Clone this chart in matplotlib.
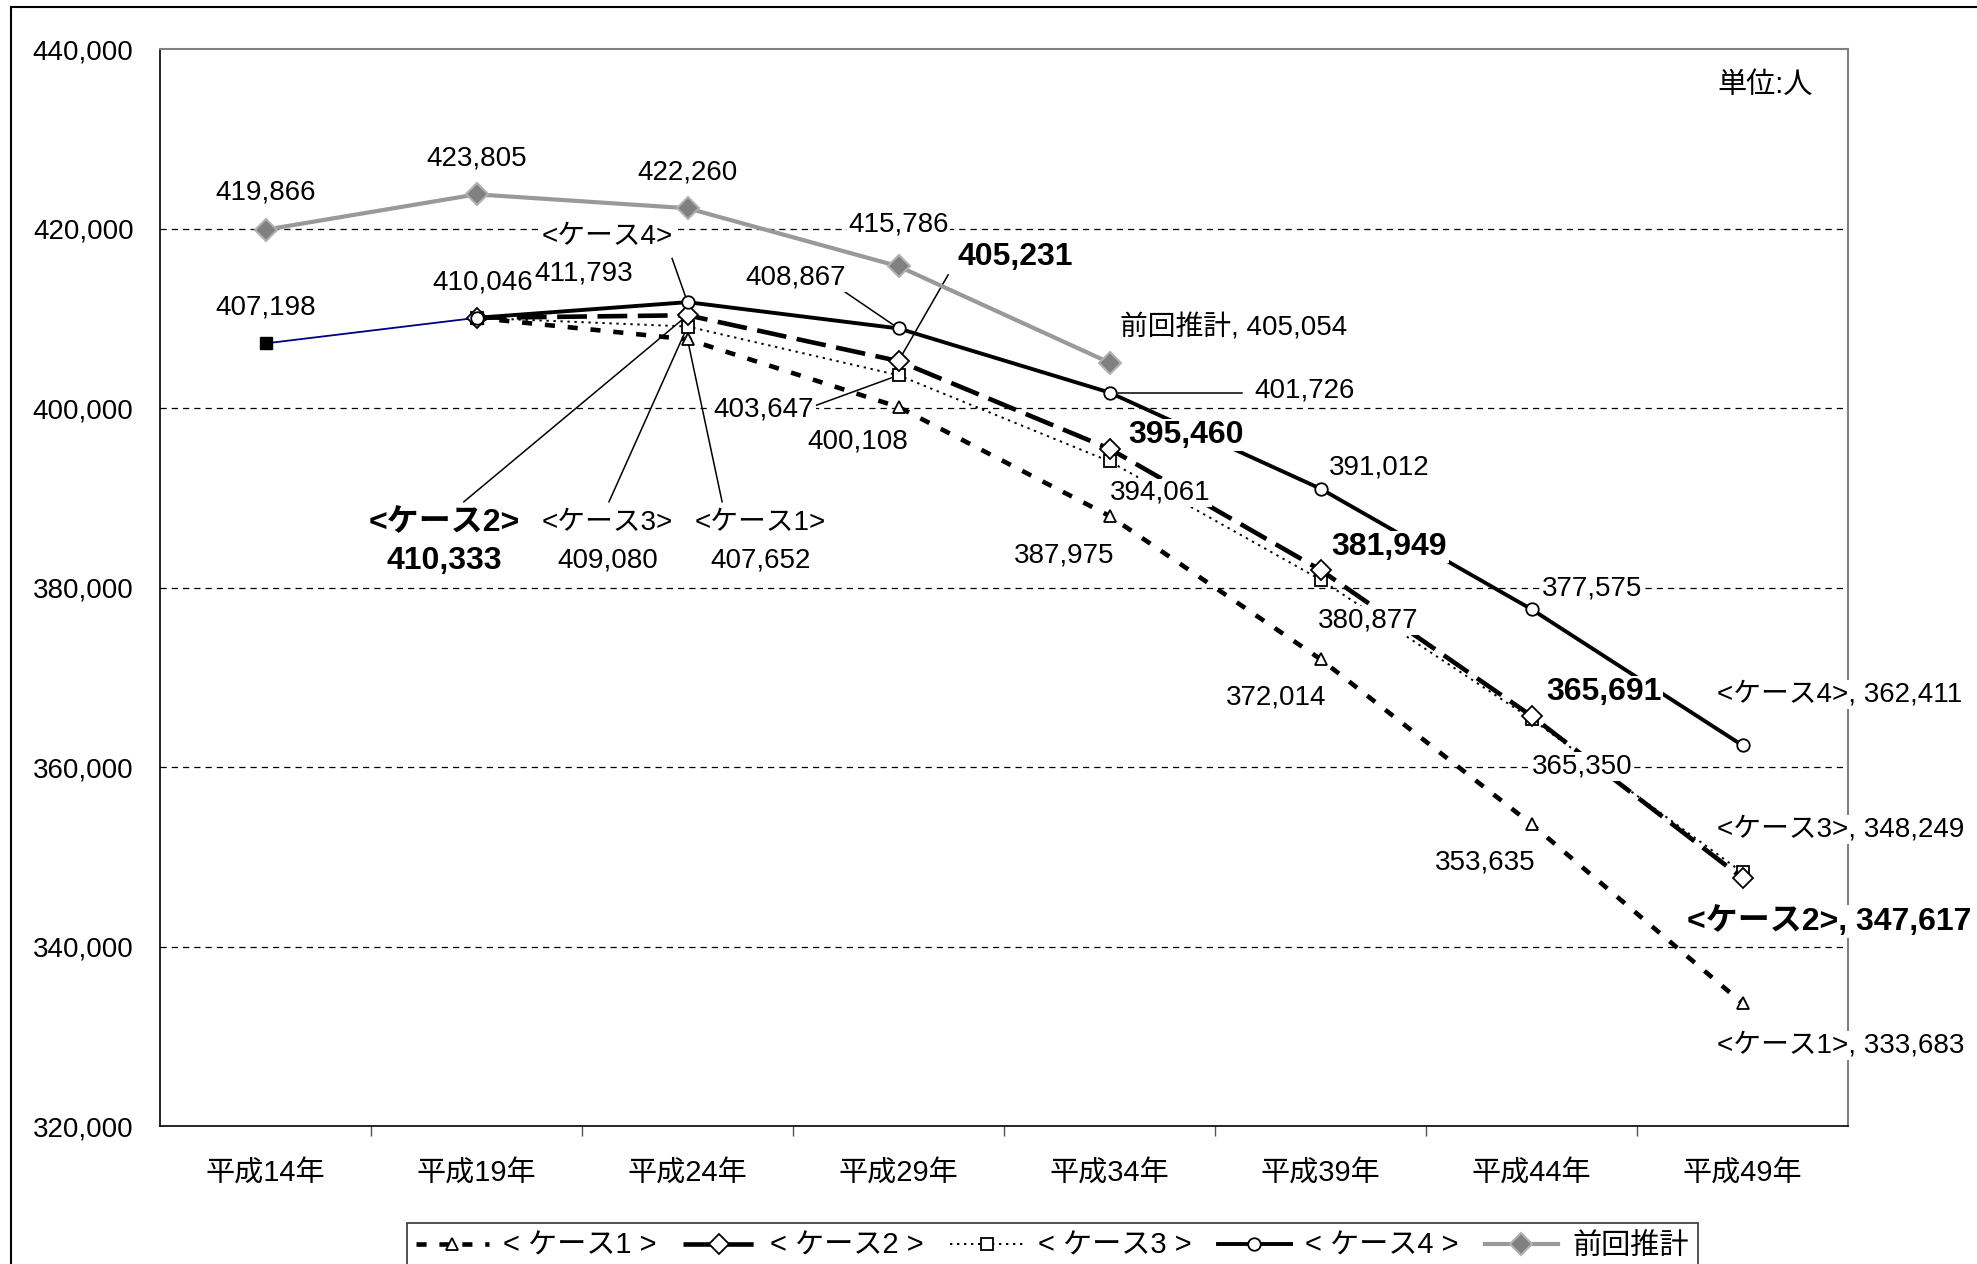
import matplotlib.pyplot as plt
from matplotlib.lines import Line2D
from matplotlib.ticker import FuncFormatter
import numpy as np

plt.rcParams['font.family'] = ['Liberation Sans', 'Noto Sans CJK JP']

# data (人)
years = ['平成14年', '平成19年', '平成24年', '平成29年', '平成34年', '平成39年', '平成44年', '平成49年']
jisseki = [407198, 410046]
case1 = [410046, 407652, 400108, 387975, 372014, 353635, 333683]
case2 = [410046, 410333, 405231, 395460, 381949, 365691, 347617]
case3 = [410046, 409080, 403647, 394061, 380877, 365350, 348249]
case4 = [410046, 411793, 408867, 401726, 391012, 377575, 362411]
zenkai = [419866, 423805, 422260, 415786, 405054]
case_names = ['<ケース1>', '<ケース2>', '<ケース3>', '<ケース4>']

W, H = 1977, 1264
fig = plt.figure(figsize=(W / 100, H / 100), dpi=100)
ax = fig.add_axes([160 / W, 1 - 1126 / H, 1688 / W, (1126 - 49) / H])

x_j = np.arange(len(jisseki))
x_c = np.arange(1, 1 + len(case1))
x_z = np.arange(len(zenkai))

st1 = dict(color='black', lw=3.3, dashes=(2.2, 2.8), marker='^', ms=9, mfc='white', mec='black', mew=1.3)
st2 = dict(color='black', lw=3.3, dashes=(6.5, 2.3), marker='D', ms=10, mfc='white', mec='black', mew=1.3)
st3 = dict(color='black', lw=1.4, dashes=(1.2, 2.4), marker='s', ms=8, mfc='white', mec='black', mew=1.3)
st4 = dict(color='black', lw=2.8, ls='-', marker='o', ms=9, mfc='white', mec='black', mew=1.3)
stz = dict(color='#999999', lw=3, ls='-', marker='D', ms=11, mfc='#808080', mec='#b0b0b0', mew=1.5)

ax.plot(x_z, zenkai, zorder=3, **stz)
ax.plot(x_j, jisseki, color='#000080', lw=1.3, marker='s', ms=8, mfc='black', mec='black', zorder=3)
ax.plot(x_c, case1, zorder=3, **st1)
ax.plot(x_c, case3, zorder=3, **st3)
ax.plot(x_c, case2, zorder=3, **st2)
ax.plot(x_c, case4, zorder=3, **st4)

ax.set_xlim(-0.5, len(years) - 0.5)
ax.set_ylim(320000, 440000)
yt = list(range(320000, 440001, 20000))
ax.set_yticks(yt)
ax.yaxis.set_major_formatter(FuncFormatter(lambda v, p: f'{int(v):,}'))
for v in yt[1:-1]:
    ax.axhline(v, color='black', lw=0.9, dashes=(5, 4), zorder=1)
ax.set_xticks(range(len(years)))
ax.set_xticklabels(years)
ax.set_xticks(np.arange(0.5, len(years) - 1, 1), minor=True)
ax.tick_params(axis='x', which='major', length=0, pad=24, labelsize=21)
ax.tick_params(axis='x', which='minor', length=7, width=1, color='#555555')
ax.tick_params(axis='y', length=0, pad=19, labelsize=20)
for s in ['left', 'bottom']:
    ax.spines[s].set_color('black')
    ax.spines[s].set_linewidth(1.2)
for s in ['top', 'right']:
    ax.spines[s].set_color('#808080')
    ax.spines[s].set_linewidth(1.5)


def lab(x, y, s, bold=False, ha='center', size=20):
    ax.text(x, y, s, ha=ha, va='center', fontsize=size + (3 if bold else 0),
            fontweight='bold' if bold else 'normal',
            bbox=dict(facecolor='white', edgecolor='none', pad=1), zorder=5)


def leader(x0, y0, x1, y1):
    ax.plot([x0, x1], [y0, y1], color='black', lw=1.1, zorder=2.5)


# 前回推計
lab(0.0, 423967, f'{zenkai[0]:,}')
lab(1.0, 427755, f'{zenkai[1]:,}')
lab(2.0, 426217, f'{zenkai[2]:,}')
lab(3.0, 420457, f'{zenkai[3]:,}')
lab(4.05, 408937, f'前回推計, {zenkai[4]:,}', ha='left')
# 実績
lab(0.0, 411186, f'{jisseki[0]:,}')
lab(1.03, 413994, f'{jisseki[1]:,}')
# 平成24年
lab(1.62, 419053, case_names[3])
lab(1.51, 414975, f'{case4[1]:,}')
leader(1.927, 416657, 2, case4[1])
lab(0.845, 387164, case_names[1], bold=True)
lab(0.845, 382953, f'{case2[1]:,}', bold=True)
leader(0.94, 389549, 2, case2[1])
lab(1.621, 387164, case_names[2])
lab(1.621, 382953, f'{case3[1]:,}')
leader(1.628, 389549, 2, case3[1])
lab(2.344, 387164, case_names[0])
lab(2.344, 382953, f'{case1[1]:,}')
leader(2.164, 389549, 2, case1[1])
# 平成29年
lab(2.512, 414552, f'{case4[2]:,}')
leader(2.715, 413427, 3, case4[2])
lab(3.552, 416802, f'{case2[2]:,}', bold=True)
leader(3.235, 414830, 3, case2[2])
lab(2.363, 399800, f'{case3[2]:,}')
leader(2.601, 400223, 3, case3[2])
lab(2.805, 396289, f'{case1[2]:,}')
# 平成34年
leader(4.04, case4[3], 4.63, case4[3])
lab(4.687, 401917, f'{case4[3]:,}', ha='left')
lab(4.364, 396992, f'{case2[3]:,}', bold=True)
lab(4.24, 390530, f'{case3[3]:,}')
lab(3.785, 383510, f'{case1[3]:,}')
# 平成39年
lab(5.278, 393337, f'{case4[4]:,}')
lab(5.327, 384491, f'{case2[4]:,}', bold=True)
lab(5.225, 376345, f'{case3[4]:,}')
lab(4.788, 367778, f'{case1[4]:,}')
# 平成44年
lab(6.288, 379856, f'{case4[5]:,}')
lab(6.342, 368335, f'{case2[5]:,}', bold=True)
lab(6.24, 360046, f'{case3[5]:,}')
lab(5.78, 349370, f'{case1[5]:,}')
# 平成49年
lab(6.88, 368055, f'{case_names[3]}, {case4[6]:,}', ha='left')
lab(6.88, 353025, f'{case_names[2]}, {case3[6]:,}', ha='left')
lab(6.737, 342775, f'{case_names[1]}, {case2[6]:,}', bold=True, ha='left')
lab(6.88, 329003, f'{case_names[0]}, {case1[6]:,}', ha='left')

ax.text(7.107, 436045, '単位:人', ha='center', va='center', fontsize=21)

handles = [Line2D([], [], **st1), Line2D([], [], **st2), Line2D([], [], **st3),
           Line2D([], [], **st4), Line2D([], [], **stz)]
names = ['< ケース1 >', '< ケース2 >', '< ケース3 >', '< ケース4 >', '前回推計']
leg = fig.legend(handles, names, ncol=5, loc='upper left',
                 bbox_to_anchor=(407 / W, 1 - 1223 / H), fontsize=21,
                 frameon=True, fancybox=False, edgecolor='black',
                 handlelength=2.5, columnspacing=0.9, handletextpad=0.5,
                 borderpad=0.3, borderaxespad=0)
leg.get_frame().set_linewidth(1.2)

# outer frame
fig.add_artist(Line2D([11 / W, 11 / W], [0, 1 - 7 / H], transform=fig.transFigure, color='black', lw=1.5))
fig.add_artist(Line2D([11 / W, 1], [1 - 7 / H, 1 - 7 / H], transform=fig.transFigure, color='black', lw=1.5))

fig.savefig('out.png', dpi=100)
